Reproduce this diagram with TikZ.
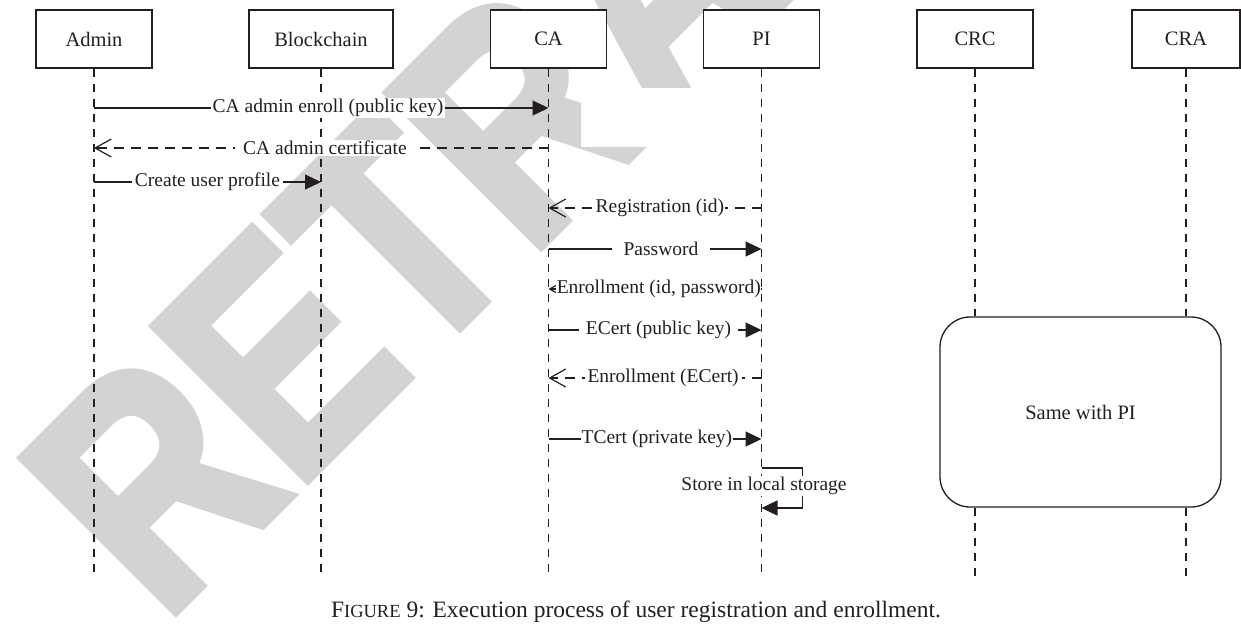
\documentclass[tikz,border=0pt]{standalone}
\usepackage{fontspec}
\setmainfont{Liberation Serif}
\newfontfamily\stampfont{Liberation Sans}[BoldFeatures={FakeBold=3}]
\usetikzlibrary{arrows.meta,calc}

\definecolor{ink}{RGB}{35,31,32}
\definecolor{stamp}{RGB}{211,211,211}

\tikzset{
  head/.style={draw=ink, line width=1.4pt, fill=white, minimum width=116pt,
    minimum height=58pt, inner sep=0pt, text=ink,
    font=\fontsize{20.5}{24}\selectfont},
  lifeline/.style={draw=ink, line width=1.1pt, dash pattern=on 8pt off 7pt},
  call/.style={draw=ink, line width=1.2pt, -{Triangle[length=16pt,width=15pt]}},
  reply/.style={draw=ink, line width=1.2pt, dash pattern=on 10pt off 7pt,
    -{Straight Barb[length=16pt,width=18pt]}},
  answer/.style={draw=ink, line width=1.2pt, -{Straight Barb[length=16pt,width=18pt]}},
  lbl/.style={fill=white, text=ink, inner xsep=3pt, inner ysep=1pt,
    font=\fontsize{19.5}{22}\selectfont},
  group/.style={draw=ink, line width=1.3pt, fill=white, rounded corners=30pt,
    minimum width=281pt, minimum height=190pt, text=ink,
    font=\fontsize{20.5}{24}\selectfont},
}

\begin{document}
\begin{tikzpicture}[x=1pt, y=-1pt]
\useasboundingbox (0,0) rectangle (1241,625);

% stamp lettering behind the chart
\node[anchor=base west, rotate=45, inner sep=0pt, text=stamp,
      font=\stampfont\bfseries\fontsize{315}{320}\selectfont]
  (stampword) at (163,624) {\scalebox{0.82}[1]{RETRACTED}};
\fill[white] (581,88) rectangle (697,147);

% participants
\node[head] (admin) at (94,39) {Admin};
\node[head, minimum width=144pt] (chain) at (321,39) {Blockchain};
\node[head] (ca) at (548.5,39) {CA};
\node[head] (pi) at (761.5,39) {PI};
\node[head] (crc) at (975,39) {CRC};
\node[head, minimum width=108pt] (cra) at (1186,39) {CRA};

\node[group] (same) at (1080.5,412) {Same with PI};

\coordinate (end) at (0,576);

% lifelines
\foreach \p in {admin,chain,ca,pi}
  \draw[lifeline] (\p.south) -- (\p.south |- end);
\foreach \p in {crc,cra} {
  \draw[lifeline] (\p.south) -- (\p.south |- same.north);
  \draw[lifeline] (\p.south |- same.south) -- (\p.south |- end);
}

% messages
\draw[call] (admin.south |- 0,108) -- (ca.south |- 0,108)
  node[lbl, inner xsep=1.5pt, pos=0.515] {CA admin enroll (public key)};
\draw[reply] (ca.south |- 0,148) -- (admin.south |- 0,148)
  node[lbl, inner xsep=8pt, pos=0.492] {CA admin certificate};
\draw[call] (admin.south |- 0,182) -- (chain.south |- 0,182)
  node[lbl, pos=0.5] {Create user profile};
\draw[reply] (pi.south |- 0,208) -- (ca.south |- 0,208)
  node[lbl, inner xsep=1pt, pos=0.477] {Registration (id)};
\draw[call] (ca.south |- 0,249) -- (pi.south |- 0,249)
  node[lbl, inner xsep=12pt, pos=0.528] {Password};
\draw[answer] (pi.south |- 0,289) -- (ca.south |- 0,289)
  node[lbl, inner xsep=0.3pt, pos=0.482] {Enrollment (id, password)};
\draw[call] (ca.south |- 0,330) -- (pi.south |- 0,330)
  node[lbl, inner xsep=7pt, pos=0.516] {ECert (public key)};
\draw[reply] (pi.south |- 0,378) -- (ca.south |- 0,378)
  node[lbl, pos=0.462] {Enrollment (ECert)};
\draw[call] (ca.south |- 0,439) -- (pi.south |- 0,439)
  node[lbl, inner xsep=1pt, pos=0.509] {TCert (private key)};

% self call on PI
\draw[call] (pi.south |- 0,468) -- ++(41,0) -- ++(0,40) -- (pi.south |- 0,508);
\node[lbl, inner xsep=1pt] (store) at (764,486) {Store in local storage};

% caption
\node[text=ink, font=\fontsize{23.5}{26}\selectfont, inner sep=0pt] (caption)
  at (636,612) {F{\fontsize{18.5}{26}\selectfont IGURE} 9: Execution process of user registration and enrollment.};
\end{tikzpicture}
\end{document}
